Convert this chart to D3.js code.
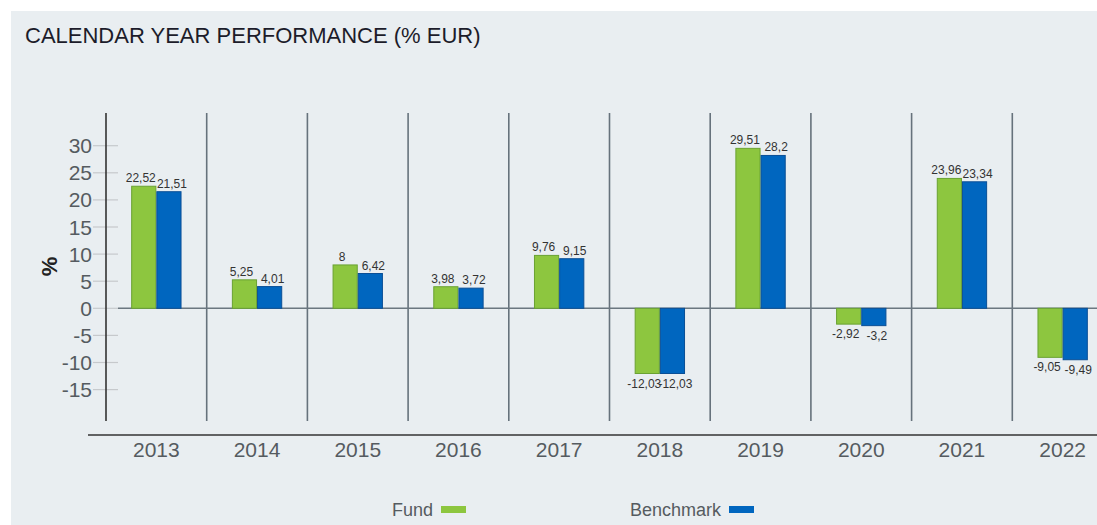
<!DOCTYPE html>
<html>
<head>
<meta charset="utf-8">
<script src="https://cdn.jsdelivr.net/npm/d3@7"></script>
<style>
  html, body { margin: 0; padding: 0; background: #fff; }
  svg { display: block; font-family: "Liberation Sans", Arial, sans-serif; }
</style>
</head>
<body>
<div id="chart"></div>
<script>
// chart data
const years = ["2013", "2014", "2015", "2016", "2017", "2018", "2019", "2020", "2021", "2022"];
const fundValues = [22.52, 5.25, 8, 3.98, 9.76, -12.03, 29.51, -2.92, 23.96, -9.05];
const benchValues = [21.51, 4.01, 6.42, 3.72, 9.15, -12.03, 28.2, -3.2, 23.34, -9.49];
const yTickValues = [-15, -10, -5, 0, 5, 10, 15, 20, 25, 30];
const seriesNames = ["Fund", "Benchmark"];

const width = 1097, height = 525;
const colors = { Fund: "#8dc63f", Benchmark: "#0066bf" };
const strokes = { Fund: "#6aa232", Benchmark: "#0a4f96" };

const svg = d3.select("#chart").append("svg")
    .attr("width", width)
    .attr("height", height);

// panel background
svg.append("rect")
    .attr("x", 11).attr("y", 11)
    .attr("width", width - 11).attr("height", height - 11)
    .attr("fill", "#e9eef1");

// title
svg.append("text")
    .attr("x", 25).attr("y", 43)
    .attr("font-size", "22px")
    .attr("fill", "#1c1c2a")
    .text("CALENDAR YEAR PERFORMANCE (% EUR)");

// scales
const x = d3.scaleBand()
    .domain(years)
    .range([106, 1113])
    .padding(0);

const bw = x.bandwidth();
const xInner = d3.scaleBand()
    .domain(seriesNames)
    .range([bw * 0.25, bw * 0.75])
    .padding(0);

const y = d3.scaleLinear()
    .domain([-15, 30])
    .range([389.6, 145.7]);

const fmt = v => String(v).replace(".", ",");

// y ticks
const yAxis = svg.append("g");
yAxis.selectAll("line")
    .data(yTickValues)
    .enter()
    .append("line")
    .attr("x1", 93).attr("x2", 118)
    .attr("y1", d => y(d)).attr("y2", d => y(d))
    .attr("stroke", "#c6c9cc")
    .attr("stroke-width", 1.2);

yAxis.selectAll("text")
    .data(yTickValues)
    .enter()
    .append("text")
    .attr("x", 92)
    .attr("y", d => y(d))
    .attr("dy", "0.36em")
    .attr("text-anchor", "end")
    .attr("font-size", "21px")
    .attr("fill", "#555b60")
    .text(d => d);

// "%" axis label
svg.append("text")
    .attr("transform", "translate(57,266.5) rotate(-90)")
    .attr("text-anchor", "middle")
    .attr("font-size", "22px")
    .attr("font-weight", "bold")
    .attr("fill", "#222")
    .text("%");

// category separators
svg.append("g").selectAll("line")
    .data(years)
    .enter()
    .append("line")
    .attr("x1", d => x(d)).attr("x2", d => x(d))
    .attr("y1", 113).attr("y2", 421)
    .attr("stroke", (d, i) => i === 0 ? "#333" : "#66727c")
    .attr("stroke-width", 1.6);

// zero line
svg.append("line")
    .attr("x1", 118).attr("x2", width)
    .attr("y1", y(0)).attr("y2", y(0))
    .attr("stroke", "#6b7780")
    .attr("stroke-width", 1.4);

// bars
const rows = years.map((yr, i) => ({ year: yr, Fund: fundValues[i], Benchmark: benchValues[i] }));

const groups = svg.selectAll(".year")
    .data(rows)
    .enter()
    .append("g")
    .attr("class", "year")
    .attr("transform", d => `translate(${x(d.year)},0)`);

groups.selectAll("rect")
    .data(d => seriesNames.map(s => ({ key: s, value: d[s] })))
    .enter()
    .append("rect")
    .attr("x", d => xInner(d.key) + 0.5)
    .attr("width", xInner.bandwidth() - 1)
    .attr("y", d => Math.min(y(d.value), y(0)))
    .attr("height", d => Math.abs(y(d.value) - y(0)))
    .attr("fill", d => colors[d.key])
    .attr("stroke", d => strokes[d.key])
    .attr("stroke-width", 1);

// value labels
groups.selectAll("text")
    .data(d => seriesNames.map(s => ({ key: s, value: d[s] })))
    .enter()
    .append("text")
    .attr("x", d => xInner(d.key) + xInner.bandwidth() / 2 + (d.key === "Fund" ? -3 : 3))
    .attr("y", d => d.value >= 0 ? y(d.value) - 4 : y(d.value) + 14)
    .attr("text-anchor", "middle")
    .attr("font-size", "12px")
    .attr("fill", "#333")
    .text(d => fmt(d.value));

// bottom axis line
svg.append("line")
    .attr("x1", 88).attr("x2", width)
    .attr("y1", 435).attr("y2", 435)
    .attr("stroke", "#333")
    .attr("stroke-width", 1.6);

// year labels
svg.append("g").selectAll("text")
    .data(years)
    .enter()
    .append("text")
    .attr("x", d => x(d) + bw / 2)
    .attr("y", 457)
    .attr("text-anchor", "middle")
    .attr("font-size", "21px")
    .attr("fill", "#555b60")
    .text(d => d);

// legend
const legendPos = [{ name: "Fund", textEnd: 433, sw: 441 }, { name: "Benchmark", textEnd: 721, sw: 729 }];
const legend = svg.append("g");
legend.selectAll("text")
    .data(legendPos)
    .enter()
    .append("text")
    .attr("x", d => d.textEnd)
    .attr("y", 516)
    .attr("text-anchor", "end")
    .attr("font-size", "18px")
    .attr("fill", "#555b60")
    .text(d => d.name);
legend.selectAll("rect")
    .data(legendPos)
    .enter()
    .append("rect")
    .attr("x", d => d.sw)
    .attr("y", 506)
    .attr("width", 25)
    .attr("height", 7)
    .attr("fill", d => colors[d.name]);
</script>
</body>
</html>
